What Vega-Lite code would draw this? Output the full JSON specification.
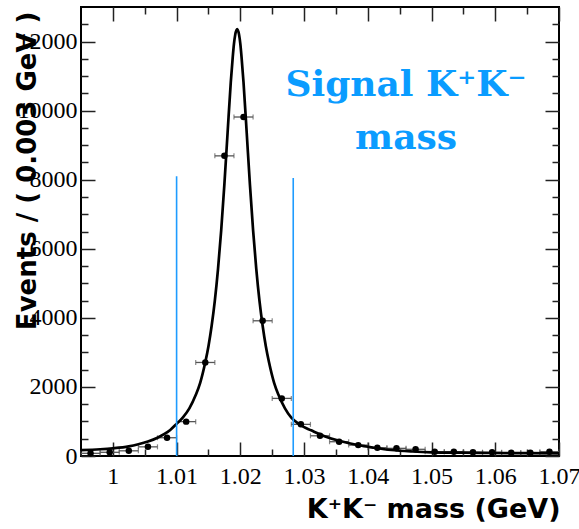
{
  "$schema": "https://vega.github.io/schema/vega-lite/v6.json",
  "width": 478,
  "height": 449,
  "autosize": {"type": "none"},
  "padding": {"left": 81, "top": 7, "right": 20, "bottom": 73},
  "background": "white",
  "config": {
    "view": {"stroke": "#000", "strokeWidth": 2},
    "axis": {
      "grid": false,
      "domain": false,
      "tickColor": "#222",
      "tickWidth": 1.5,
      "labelFont": "Liberation Serif",
      "labelFontSize": 24,
      "labelColor": "#000",
      "labelFlush": false,
      "labelOverlap": false,
      "titleFont": "DejaVu Sans",
      "titleFontWeight": "bold",
      "titleFontSize": 26,
      "titleColor": "#000"
    }
  },
  "datasets": {
    "bins": [
      {"mass": 0.9965, "lo": 0.995, "hi": 0.998, "events": 78},
      {"mass": 0.9995, "lo": 0.998, "hi": 1.001, "events": 107},
      {"mass": 1.0025, "lo": 1.001, "hi": 1.004, "events": 150},
      {"mass": 1.0055, "lo": 1.004, "hi": 1.007, "events": 265},
      {"mass": 1.0085, "lo": 1.007, "hi": 1.010, "events": 529},
      {"mass": 1.0115, "lo": 1.010, "hi": 1.013, "events": 995},
      {"mass": 1.0145, "lo": 1.013, "hi": 1.016, "events": 2708},
      {"mass": 1.0175, "lo": 1.016, "hi": 1.019, "events": 8690},
      {"mass": 1.0205, "lo": 1.019, "hi": 1.022, "events": 9815},
      {"mass": 1.0235, "lo": 1.022, "hi": 1.025, "events": 3915},
      {"mass": 1.0265, "lo": 1.025, "hi": 1.028, "events": 1668},
      {"mass": 1.0295, "lo": 1.028, "hi": 1.031, "events": 916},
      {"mass": 1.0325, "lo": 1.031, "hi": 1.034, "events": 585},
      {"mass": 1.0355, "lo": 1.034, "hi": 1.037, "events": 413},
      {"mass": 1.0385, "lo": 1.037, "hi": 1.040, "events": 315},
      {"mass": 1.0415, "lo": 1.040, "hi": 1.043, "events": 240},
      {"mass": 1.0445, "lo": 1.043, "hi": 1.046, "events": 222},
      {"mass": 1.0475, "lo": 1.046, "hi": 1.049, "events": 194},
      {"mass": 1.0505, "lo": 1.049, "hi": 1.052, "events": 124},
      {"mass": 1.0535, "lo": 1.052, "hi": 1.055, "events": 124},
      {"mass": 1.0565, "lo": 1.055, "hi": 1.058, "events": 107},
      {"mass": 1.0595, "lo": 1.058, "hi": 1.061, "events": 107},
      {"mass": 1.0625, "lo": 1.061, "hi": 1.064, "events": 96},
      {"mass": 1.0655, "lo": 1.064, "hi": 1.067, "events": 96},
      {"mass": 1.0685, "lo": 1.067, "hi": 1.070, "events": 124}
    ],
    "fit": [
      {"mass": 0.9950, "events": 172},
      {"mass": 0.9980, "events": 195},
      {"mass": 1.0000, "events": 222},
      {"mass": 1.0025, "events": 278},
      {"mass": 1.0040, "events": 340},
      {"mass": 1.0055, "events": 420},
      {"mass": 1.0070, "events": 530},
      {"mass": 1.0081, "events": 640},
      {"mass": 1.0090, "events": 755},
      {"mass": 1.0100, "events": 930},
      {"mass": 1.0110, "events": 1120},
      {"mass": 1.0120, "events": 1380},
      {"mass": 1.0130, "events": 1765},
      {"mass": 1.0137, "events": 2120},
      {"mass": 1.0145, "events": 2715},
      {"mass": 1.0150, "events": 3180},
      {"mass": 1.0155, "events": 3770},
      {"mass": 1.0160, "events": 4500},
      {"mass": 1.0165, "events": 5420},
      {"mass": 1.0170, "events": 6540},
      {"mass": 1.0175, "events": 7870},
      {"mass": 1.0180, "events": 9360},
      {"mass": 1.0185, "events": 10820},
      {"mass": 1.0188, "events": 11530},
      {"mass": 1.0190, "events": 11930},
      {"mass": 1.0192, "events": 12200},
      {"mass": 1.0195, "events": 12361},
      {"mass": 1.0198, "events": 12200},
      {"mass": 1.0200, "events": 11930},
      {"mass": 1.0202, "events": 11530},
      {"mass": 1.0205, "events": 10820},
      {"mass": 1.0210, "events": 9360},
      {"mass": 1.0215, "events": 7870},
      {"mass": 1.0220, "events": 6540},
      {"mass": 1.0225, "events": 5420},
      {"mass": 1.0230, "events": 4500},
      {"mass": 1.0235, "events": 3770},
      {"mass": 1.0240, "events": 3180},
      {"mass": 1.0245, "events": 2715},
      {"mass": 1.0253, "events": 2120},
      {"mass": 1.0260, "events": 1765},
      {"mass": 1.0270, "events": 1380},
      {"mass": 1.0280, "events": 1110},
      {"mass": 1.0290, "events": 950},
      {"mass": 1.0300, "events": 835},
      {"mass": 1.0311, "events": 745},
      {"mass": 1.0322, "events": 650},
      {"mass": 1.0332, "events": 575},
      {"mass": 1.0355, "events": 440},
      {"mass": 1.0384, "events": 318},
      {"mass": 1.0410, "events": 240},
      {"mass": 1.0437, "events": 173},
      {"mass": 1.0470, "events": 130},
      {"mass": 1.0500, "events": 107},
      {"mass": 1.0550, "events": 95},
      {"mass": 1.0594, "events": 87},
      {"mass": 1.0650, "events": 82},
      {"mass": 1.0700, "events": 78}
    ],
    "cuts": [
      {"cut": 1.0100, "top": 8100},
      {"cut": 1.0283, "top": 8050}
    ]
  },
  "resolve": {"axis": {"x": "independent", "y": "independent"}},
  "layer": [
    {
      "data": {"name": "bins"},
      "mark": {"type": "rule", "color": "#555", "strokeWidth": 1.3},
      "encoding": {
        "x": {
          "field": "lo", "type": "quantitative",
          "scale": {"domain": [0.995, 1.07], "nice": false, "zero": false},
          "axis": {"orient": "bottom", "title": null, "labels": false, "tickSize": -7,
                   "values": [1.005, 1.015, 1.025, 1.035, 1.045, 1.055, 1.065]}
        },
        "x2": {"field": "hi"},
        "y": {
          "field": "events", "type": "quantitative",
          "scale": {"domain": [0, 13000], "nice": false},
          "axis": {"orient": "left", "title": null, "labels": false, "tickSize": -7,
                   "values": [500, 1000, 1500, 2500, 3000, 3500, 4500, 5000, 5500, 6500, 7000, 7500, 8500, 9000, 9500, 10500, 11000, 11500, 12500]}
        }
      }
    },
    {
      "data": {"name": "bins"},
      "transform": [{"fold": ["lo", "hi"], "as": ["edge", "edgeMass"]}],
      "mark": {"type": "tick", "orient": "vertical", "size": 5, "thickness": 1.2, "color": "#555"},
      "encoding": {
        "x": {
          "field": "edgeMass", "type": "quantitative",
          "scale": {"domain": [0.995, 1.07], "nice": false, "zero": false},
          "axis": {"orient": "top", "title": null, "labels": false, "tickSize": -7,
                   "values": [1.005, 1.015, 1.025, 1.035, 1.045, 1.055, 1.065]}
        },
        "y": {
          "field": "events", "type": "quantitative",
          "scale": {"domain": [0, 13000], "nice": false},
          "axis": {"orient": "right", "title": null, "labels": false, "tickSize": -7,
                   "values": [500, 1000, 1500, 2500, 3000, 3500, 4500, 5000, 5500, 6500, 7000, 7500, 8500, 9000, 9500, 10500, 11000, 11500, 12500]}
        }
      }
    },
    {
      "data": {"name": "bins"},
      "mark": {"type": "circle", "size": 42, "color": "#000", "opacity": 1},
      "encoding": {
        "x": {
          "field": "mass", "type": "quantitative",
          "scale": {"domain": [0.995, 1.07], "nice": false, "zero": false},
          "axis": {
            "orient": "bottom", "tickSize": -14, "labelPadding": 22, "format": "~g",
            "values": [1, 1.01, 1.02, 1.03, 1.04, 1.05, 1.06, 1.07],
            "title": "K⁺K⁻ mass (GeV)", "titleFontSize": 27,
            "titleAnchor": "end", "titleAlign": "right", "titleBaseline": "alphabetic",
            "titleX": 479, "titleY": 61
          }
        },
        "y": {
          "field": "events", "type": "quantitative",
          "scale": {"domain": [0, 13000], "nice": false},
          "axis": {
            "orient": "left", "tickSize": -14, "labelPadding": 18, "format": "d",
            "values": [0, 2000, 4000, 6000, 8000, 10000, 12000],
            "title": "Events / ( 0.003 GeV )",
            "titleAngle": -90, "titleAnchor": "end", "titleAlign": "right", "titleBaseline": "alphabetic",
            "titleX": -46, "titleY": 4
          }
        }
      }
    },
    {
      "data": {"name": "fit"},
      "mark": {"type": "line", "color": "#000", "strokeWidth": 2.7, "interpolate": "monotone"},
      "encoding": {
        "x": {
          "field": "mass", "type": "quantitative",
          "scale": {"domain": [0.995, 1.07], "nice": false, "zero": false},
          "axis": {"orient": "top", "title": null, "labels": false, "tickSize": -14,
                   "values": [1, 1.01, 1.02, 1.03, 1.04, 1.05, 1.06, 1.07]}
        },
        "y": {
          "field": "events", "type": "quantitative",
          "scale": {"domain": [0, 13000], "nice": false},
          "axis": {"orient": "right", "title": null, "labels": false, "tickSize": -14,
                   "values": [0, 2000, 4000, 6000, 8000, 10000, 12000]}
        }
      }
    },
    {
      "data": {"name": "cuts"},
      "mark": {"type": "rule", "color": "#1e9cff", "strokeWidth": 1.6},
      "encoding": {
        "x": {"field": "cut", "type": "quantitative", "axis": null,
              "scale": {"domain": [0.995, 1.07], "nice": false, "zero": false}},
        "y": {"field": "top", "type": "quantitative", "axis": null,
              "scale": {"domain": [0, 13000], "nice": false}},
        "y2": {"datum": 0}
      }
    },
    {
      "data": {"values": [{}]},
      "mark": {
        "type": "text",
        "text": ["Signal K⁺K⁻", "mass"],
        "font": "DejaVu Serif",
        "fontWeight": "bold",
        "fontSize": 36,
        "color": "#0a9cff",
        "align": "center",
        "baseline": "alphabetic",
        "lineHeight": 53
      },
      "encoding": {
        "x": {"datum": 1.046, "type": "quantitative", "axis": null,
              "scale": {"domain": [0.995, 1.07], "nice": false, "zero": false}},
        "y": {"datum": 10434, "type": "quantitative", "axis": null,
              "scale": {"domain": [0, 13000], "nice": false}}
      }
    }
  ]
}
